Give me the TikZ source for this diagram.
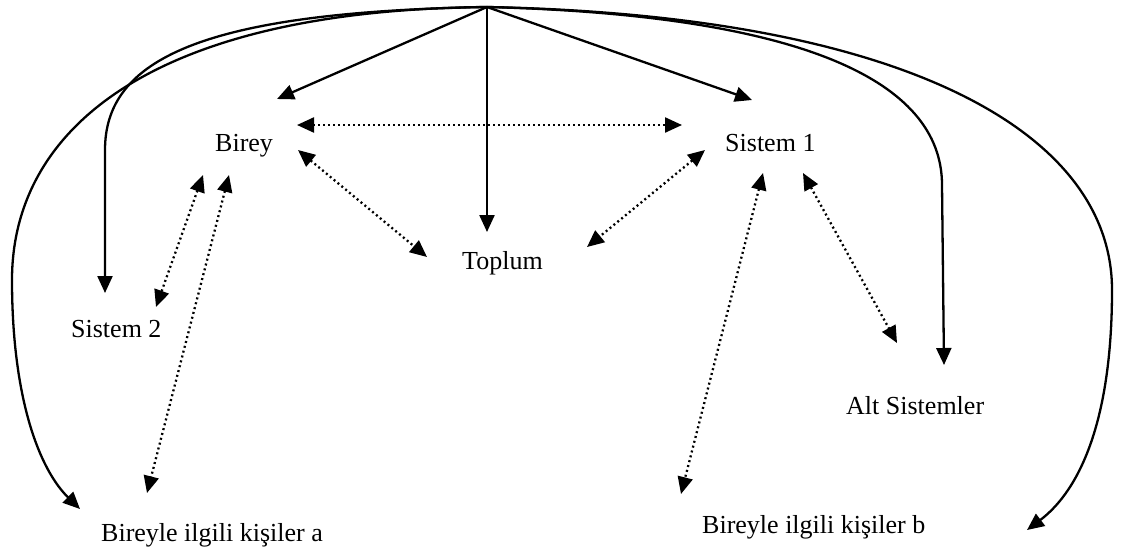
\documentclass[tikz,border=0pt]{standalone}
\usepackage{fontspec}
\setmainfont{Liberation Serif}
\usetikzlibrary{arrows.meta}
\begin{document}
\begin{tikzpicture}[x=1pt,y=-1pt,
  label/.style={anchor=base west,inner sep=0pt,font=\fontsize{26}{30}\selectfont},
  head/.tip={Triangle[length=17pt,width=15pt]},
  link/.style={line width=2.3pt,-head},
  mutual/.style={line width=2.3pt,dash pattern=on 2pt off 3pt,head-head}]
\useasboundingbox (0,0) rectangle (1121,550);

% labels
\node[label] (birey)  at (215,151) {Birey};
\node[label] (sis1)   at (725,151) {Sistem 1};
\node[label] (toplum) at (462,269) {Toplum};
\node[label] (sis2)   at (71,337)  {Sistem 2};
\node[label] (alt)    at (846,414) {Alt Sistemler};
\node[label] (kisa)   at (101,541) {Bireyle ilgili kişiler a};
\node[label] (kisb)   at (702,533) {Bireyle ilgili kişiler b};

% common source of the solid arrows
\coordinate (apex) at (487,7);

% arrow end points around the labels
\coordinate (bireyT)  at (277,99);
\coordinate (sis1T)   at (752,100);
\coordinate (toplumT) at (487,232);
\coordinate (sis2T)   at (105,293);
\coordinate (altT)    at (944,365);
\coordinate (kisaT)   at (80,509);
\coordinate (kisbT)   at (1027,530);

\coordinate (bireyR)   at (297,125);
\coordinate (sis1L)    at (682,125);
\coordinate (bireyRB)  at (298,150);
\coordinate (toplumL)  at (427,257);
\coordinate (sis1LB)   at (705,150);
\coordinate (toplumR)  at (587,247);
\coordinate (bireyBL)  at (203,175);
\coordinate (sis2R)    at (156,307);
\coordinate (bireyBR)  at (229,175);
\coordinate (kisaU)    at (147,493);
\coordinate (sis1BL)   at (763,173);
\coordinate (kisbU)    at (681,494);
\coordinate (sis1BR)   at (803,173);
\coordinate (altU)     at (897,343);

% solid arrows from the top
\draw[link] (apex) -- (bireyT);
\draw[link] (apex) -- (sis1T);
\draw[link] (apex) -- (toplumT);
\draw[link] (apex) .. controls (200,12) and (105,60) .. (105,150) -- (sis2T);
\draw[link] (apex) .. controls (150,10) and (12,130) .. (12,280)
                   .. controls (12,400) and (40,470) .. (kisaT);
\draw[link] (apex) .. controls (800,15) and (942,80) .. (942,185) -- (altT);
\draw[link] (apex) .. controls (900,15) and (1112,130) .. (1112,290)
                   .. controls (1112,420) and (1080,490) .. (kisbT);

% dotted two-way links
\draw[mutual] (bireyR) -- (sis1L);
\draw[mutual] (bireyRB) -- (toplumL);
\draw[mutual] (sis1LB) -- (toplumR);
\draw[mutual] (bireyBL) -- (sis2R);
\draw[mutual] (bireyBR) -- (kisaU);
\draw[mutual] (sis1BL) -- (kisbU);
\draw[mutual] (sis1BR) -- (altU);
\end{tikzpicture}
\end{document}
